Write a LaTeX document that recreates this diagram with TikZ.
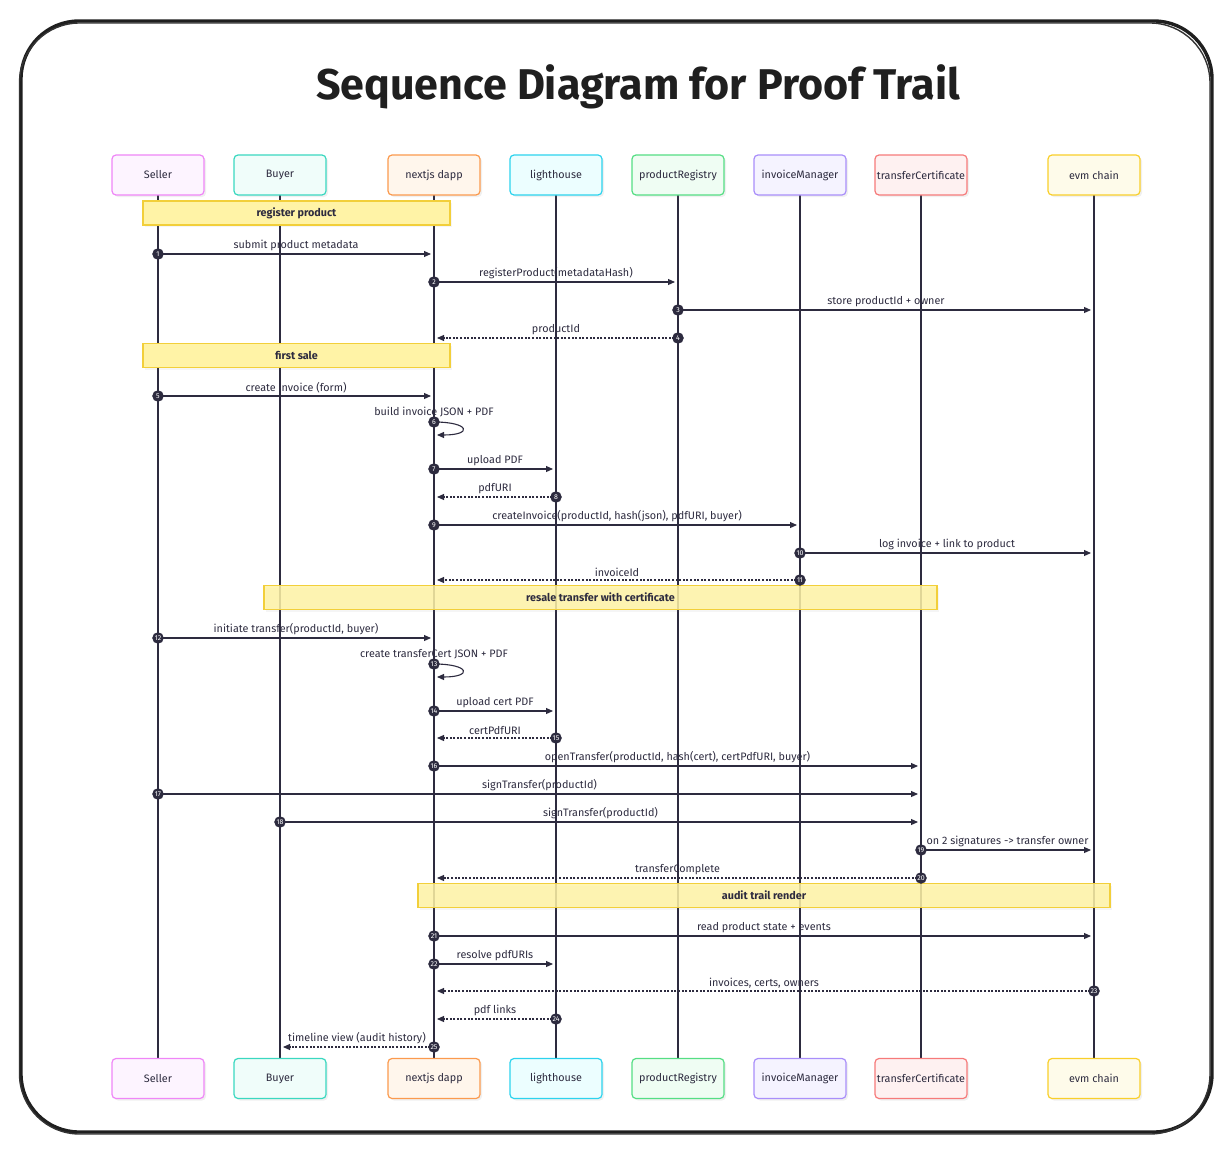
\documentclass[tikz,border=0pt]{standalone}
\usepackage{fontspec}
\setmainfont{Fira Sans}
\usetikzlibrary{arrows.meta,shadows,calc}
\definecolor{ink}{HTML}{2D2B3F}
\definecolor{notefill}{HTML}{FFF3A6}
\definecolor{notedraw}{HTML}{F2CF3A}
\definecolor{cSd}{HTML}{EF86F7}\definecolor{cSf}{HTML}{FDF4FF}
\definecolor{cBd}{HTML}{3AD8C0}\definecolor{cBf}{HTML}{F0FDFA}
\definecolor{cNd}{HTML}{FB9A4E}\definecolor{cNf}{HTML}{FFF6EC}
\definecolor{cLd}{HTML}{2CD3EE}\definecolor{cLf}{HTML}{ECFEFF}
\definecolor{cPd}{HTML}{55DE84}\definecolor{cPf}{HTML}{EFFDF3}
\definecolor{cId}{HTML}{A98EFA}\definecolor{cIf}{HTML}{F5F3FF}
\definecolor{cTd}{HTML}{F67A7A}\definecolor{cTf}{HTML}{FEF1F1}
\definecolor{cEd}{HTML}{F9CF2A}\definecolor{cEf}{HTML}{FEFBEA}
\tikzset{
  part/.style={draw=#1d, fill=#1f, line width=1.2pt, rounded corners=4pt,
    minimum width=92pt, minimum height=40pt, inner sep=0pt, text=ink,
    font=\fontsize{10.8}{12}\selectfont,
    drop shadow={opacity=0.12, shadow xshift=2pt, shadow yshift=-2pt}},
  lifeline/.style={draw=ink, line width=1.3pt},
  note/.style={draw=notedraw, fill=notefill, line width=1.2pt, inner sep=0pt,
    minimum height=24pt, text=ink, font=\fontsize{10.8}{12}\selectfont\bfseries,
    drop shadow={opacity=0.08, shadow xshift=2pt, shadow yshift=-2pt}},
  msg/.style={draw=ink, line width=1.1pt, -{Triangle[length=7pt,width=6pt]}, shorten >=3pt},
  reply/.style={msg, dash pattern=on 2pt off 1.6pt},
  msglabel/.style={above=1.5pt, text=ink, font=\fontsize{10.8}{12}\selectfont, inner sep=1pt},
  numdot/.style={circle, fill=ink, draw=ink, minimum size=11pt, inner sep=0pt,
    text=white, font=\fontsize{7}{7}\selectfont},
}
\newcommand\seqmsg[6]{%
  \draw[#6] (#1 |- 0,#3) -- node[msglabel]{#4} (#2 |- 0,#3);
  \node[numdot] (n#5) at (#1 |- 0,#3) {#5};}
\newcommand\selfmsg[4]{%
  \node[text=ink, font=\fontsize{10.8}{12}\selectfont] (sl#4) at (#1 |- 0,#2) [yshift=9.5pt] {#3};
  \draw[msg, shorten >=0pt] (#1 |- 0,#2) .. controls +(36,0) and +(36,0) .. ($(#1 |- 0,#2)+(3,13)$);
  \node[numdot] (n#4) at (#1 |- 0,#2) {#4};}
\begin{document}
\begin{tikzpicture}[x=1pt,y=-1pt]
\useasboundingbox (0,0) rectangle (1232,1153);
% frame
\draw[line width=3.4pt, color=black!88, rounded corners=58pt] (21,21) rectangle (1212,1132);
\draw[line width=1.4pt, color=black!80, rounded corners=60pt] (19.5,23) rectangle (1210,1134);
\node[text=black!88, font=\fontsize{43}{46}\selectfont\bfseries] (title) at (638,87) {Sequence Diagram for Proof Trail};
% participants
\foreach \n/\x in {S/158, B/280, N/434, L/556, P/678, I/800, T/921, E/1094}{
  \coordinate (t\n) at (\x,195);
  \coordinate (u\n) at (\x,1059);
}
\foreach \n in {S,B,N,L,P,I,T,E}{\draw[lifeline] (t\n) -- (u\n);}
% notes 1,2 (opaque)
\node[note, minimum width=307pt] (note1) at (296.5,213) {register product};
\node[note, minimum width=307pt] (note2) at (296.5,355.5) {first sale};
% notes 3,4 with lifelines showing through
\node[note, minimum width=673pt, fill opacity=0.85, text opacity=1] (note3) at (600.5,597.5) {resale transfer with certificate};
\node[note, minimum width=692pt, fill opacity=0.85, text opacity=1] (note4) at (764,895.5) {audit trail render};
\foreach \n/\x/\c/\t in {S/158/cS/Seller, B/280/cB/Buyer, N/434/cN/nextjs dapp, L/556/cL/lighthouse,
  P/678/cP/productRegistry, I/800/cI/invoiceManager, T/921/cT/transferCertificate, E/1094/cE/evm chain}{
  \node[part=\c] (p\n) at (\x,175) {\t};
  \node[part=\c] (b\n) at (\x,1078.5) {\t};
}
% messages
\seqmsg{pS}{pN}{254}{submit product metadata}{1}{msg}
\seqmsg{pN}{pP}{282}{registerProduct(metadataHash)}{2}{msg}
\seqmsg{pP}{pE}{310}{store productId + owner}{3}{msg}
\seqmsg{pP}{pN}{338}{productId}{4}{reply}
\seqmsg{pS}{pN}{396}{create invoice (form)}{5}{msg}
\selfmsg{pN}{422}{build invoice JSON + PDF}{6}
\seqmsg{pN}{pL}{469}{upload PDF}{7}{msg}
\seqmsg{pL}{pN}{497}{pdfURI}{8}{reply}
\seqmsg{pN}{pI}{525}{createInvoice(productId, hash(json), pdfURI, buyer)}{9}{msg}
\seqmsg{pI}{pE}{553}{log invoice + link to product}{10}{msg}
\seqmsg{pI}{pN}{580}{invoiceId}{11}{reply}
\seqmsg{pS}{pN}{638}{initiate transfer(productId, buyer)}{12}{msg}
\selfmsg{pN}{664}{create transferCert JSON + PDF}{13}
\seqmsg{pN}{pL}{711}{upload cert PDF}{14}{msg}
\seqmsg{pL}{pN}{738}{certPdfURI}{15}{reply}
\seqmsg{pN}{pT}{766}{openTransfer(productId, hash(cert), certPdfURI, buyer)}{16}{msg}
\seqmsg{pS}{pT}{794}{signTransfer(productId)}{17}{msg}
\seqmsg{pB}{pT}{822}{signTransfer(productId)}{18}{msg}
\seqmsg{pT}{pE}{850}{on 2 signatures -> transfer owner}{19}{msg}
\seqmsg{pT}{pN}{878}{transferComplete}{20}{reply}
\seqmsg{pN}{pE}{936}{read product state + events}{21}{msg}
\seqmsg{pN}{pL}{964}{resolve pdfURIs}{22}{msg}
\seqmsg{pE}{pN}{991}{invoices, certs, owners}{23}{reply}
\seqmsg{pL}{pN}{1019}{pdf links}{24}{reply}
\seqmsg{pN}{pB}{1047}{timeline view (audit history)}{25}{reply}
\end{tikzpicture}
\end{document}
